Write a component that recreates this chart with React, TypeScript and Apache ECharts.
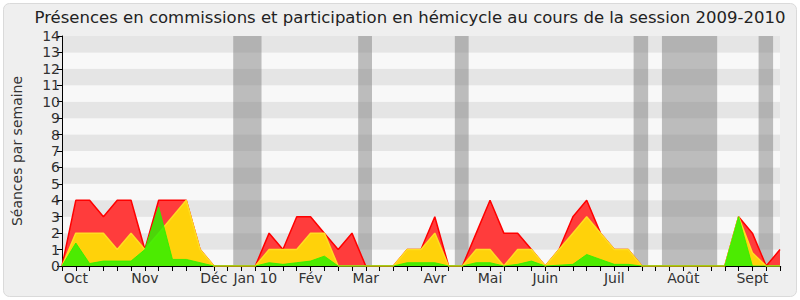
import React, { useEffect, useRef } from 'react';
import * as echarts from 'echarts';

// Weekly values (index = week of the session, starting end of September 2009)
const totalSeances = [0, 4, 4, 3, 4, 4, 1, 4, 4, 4, 1, 0, 0, 0, 0, 2, 1, 3, 3, 2, 1, 2, 0, 0, 0, 1, 1, 3, 0, 0, 2, 4, 2, 2, 1, 0, 1, 3, 4, 2, 1, 1, 0, 0, 0, 0, 0, 0, 0, 3, 2, 0, 1];
const commissions = [0, 2, 2, 2, 1, 2, 1, 2, 3, 4, 1, 0, 0, 0, 0, 1, 1, 1, 2, 2, 0, 0, 0, 0, 0, 1, 1, 2, 0, 0, 1, 1, 0, 1, 1, 0, 1, 2, 3, 2, 1, 1, 0, 0, 0, 0, 0, 0, 0, 3, 0.8, 0, 0];
const hemicycle = [0, 1.4, 0.15, 0.3, 0.3, 0.3, 1, 3.6, 0.4, 0.4, 0.2, 0, 0, 0, 0, 0.2, 0.1, 0.2, 0.3, 0.6, 0, 0, 0, 0, 0, 0.2, 0.2, 0.2, 0, 0, 0.2, 0.2, 0, 0.1, 0.3, 0, 0.05, 0.1, 0.7, 0.4, 0.1, 0.1, 0, 0, 0, 0, 0, 0, 0, 3, 0, 0, 0];

// Month tick labels (week index -> label)
const monthWeeks = [1, 6, 11, 14, 18, 22, 27, 31, 35, 40, 45, 50];
const monthNames = ['Oct', 'Nov', 'Déc', 'Jan 10', 'Fév', 'Mar', 'Avr', 'Mai', 'Juin', 'Juil', 'Août', 'Sept'];

// Parliamentary holidays (week ranges)
const vacStart = [12.4, 21.45, 28.45, 41.4, 43.45, 50.45];
const vacEnd = [14.45, 22.45, 29.45, 42.45, 47.45, 51.5];

const yTicks = [0, 1, 2, 3, 4, 5, 6, 7, 8, 9, 10, 11, 12, 13, 14];

const FONT = 'DejaVu Sans';

export default function App() {
  const ref = useRef<HTMLDivElement>(null);
  useEffect(() => {
    if (!ref.current) return;
    const chart = echarts.init(ref.current, null, { renderer: 'svg' });
    const toPairs = (arr: number[]) => arr.map((v, i) => [i, v]);
    const lastWeek = totalSeances.length - 1;
    chart.setOption({
      animation: false,
      backgroundColor: '#ffffff',
      textStyle: { fontFamily: FONT },
      graphic: [
        {
          type: 'rect',
          z: -10,
          silent: true,
          shape: { x: 3.5, y: 3.5, width: 793, height: 293, r: 6 },
          style: { fill: '#efefef', stroke: '#dadada', lineWidth: 1 },
        },
      ],
      title: {
        text: 'Présences en commissions et participation en hémicycle au cours de la session 2009-2010',
        left: 405,
        textAlign: 'center',
        top: 4,
        textStyle: { fontFamily: FONT, fontSize: 16.5, fontWeight: 'normal', color: '#222' },
      },
      grid: { left: 62, right: 20, top: 36, bottom: 34, containLabel: false },
      xAxis: [
        {
          type: 'value',
          min: 0,
          max: lastWeek,
          interval: 1,
          axisLine: { show: true, onZero: false, lineStyle: { color: '#000', width: 1 } },
          axisTick: { show: true, length: 5, lineStyle: { color: '#000' } },
          splitLine: { show: false },
          axisLabel: {
            show: true,
            margin: 5,
            fontFamily: FONT,
            fontSize: 14,
            color: '#333',
            showMinLabel: true,
            showMaxLabel: true,
            formatter: (v: number) => {
              const k = monthWeeks.indexOf(Math.round(v));
              return k >= 0 ? monthNames[k] : '';
            },
          },
        },
        {
          type: 'value',
          position: 'top',
          min: 0,
          max: lastWeek,
          interval: 1,
          axisLine: { show: false },
          axisTick: { show: true, inside: true, length: 1.5, lineStyle: { color: '#000', width: 1.2 } },
          axisLabel: { show: false },
          splitLine: { show: false },
        },
      ],
      yAxis: {
        type: 'value',
        min: yTicks[0],
        max: yTicks[yTicks.length - 1],
        interval: 1,
        name: 'Séances par semaine',
        nameLocation: 'middle',
        nameGap: 38,
        nameTextStyle: { fontFamily: FONT, fontSize: 14, color: '#333' },
        axisLine: { show: true, lineStyle: { color: '#000', width: 1 } },
        axisTick: { show: true, length: 5, lineStyle: { color: '#000' } },
        axisLabel: { margin: 2, fontFamily: FONT, fontSize: 14, color: '#333' },
        splitLine: { show: false },
        splitArea: { show: true, areaStyle: { color: ['#f8f8f8', '#e5e5e5'] } },
      },
      series: [
        {
          name: 'Total',
          type: 'line',
          data: toPairs(totalSeances),
          symbol: 'none',
          lineStyle: { color: '#ff0000', width: 1.5 },
          areaStyle: { color: '#ff3c3c', opacity: 1 },
          z: 2,
          markArea: {
            silent: true,
            itemStyle: { color: 'rgba(128,128,128,0.5)' },
            data: vacStart.map((s, i) => [{ xAxis: s }, { xAxis: vacEnd[i] }]),
          },
        },
        {
          name: 'Commissions',
          type: 'line',
          data: toPairs(commissions),
          symbol: 'none',
          lineStyle: { color: '#ffdd22', width: 1.5 },
          areaStyle: { color: '#ffd20a', opacity: 1 },
          z: 3,
        },
        {
          name: 'Hémicycle',
          type: 'line',
          data: toPairs(hemicycle),
          symbol: 'none',
          lineStyle: { color: '#2df000', width: 1, opacity: 0.85 },
          areaStyle: { color: '#2df000', opacity: 0.85 },
          z: 4,
        },
      ],
    });
    return () => chart.dispose();
  }, []);
  return (
    <div
      ref={ref}
      style={{ position: 'fixed', left: 0, top: 0, width: 800, height: 300 }}
    />
  );
}
